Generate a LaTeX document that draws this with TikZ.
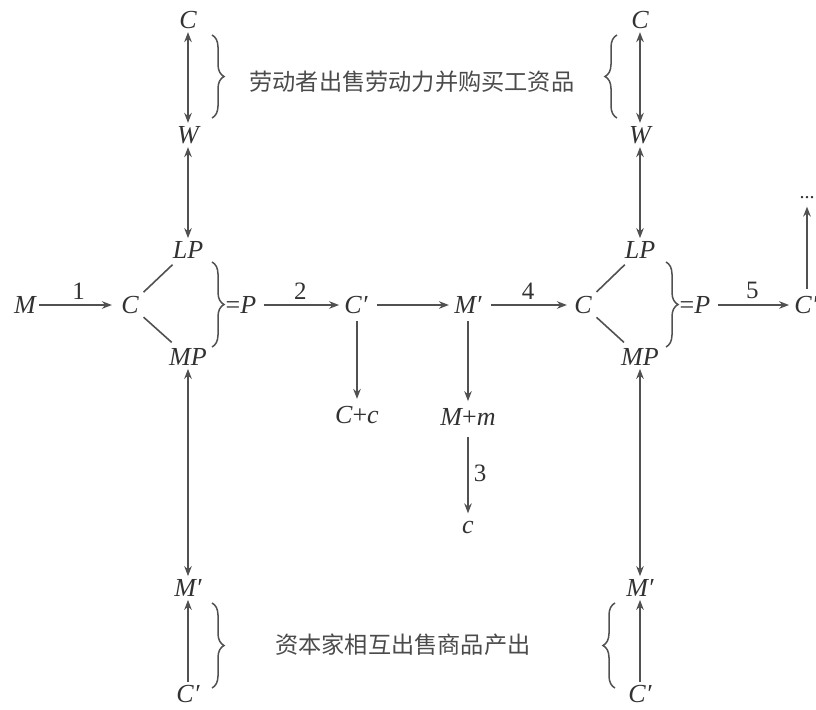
\documentclass[tikz,border=0pt]{standalone}
\usepackage{fontspec}
\setmainfont{Liberation Serif}
\newfontfamily\cjk{Noto Sans CJK SC}
\usetikzlibrary{arrows.meta,decorations.pathreplacing}
\definecolor{ink}{RGB}{50,50,50}
\definecolor{cjkink}{RGB}{75,75,75}
\begin{document}
\begin{tikzpicture}[x=0.5pt,y=-0.5pt,
  every node/.style={font=\fontsize{13}{15}\selectfont\itshape, text=ink, inner sep=1.5pt},
  lbl/.style={font=\fontsize{12.5}{14}\selectfont\upshape},
  cn/.style={font=\fontsize{11.6}{13}\selectfont\cjk, text=cjkink},
  conn/.style={draw=ink!85, line width=0.8pt},
  arr/.style={conn, -{Stealth[length=5pt,width=3.8pt]}},
  darr/.style={conn, {Stealth[length=5pt,width=3.8pt]}-{Stealth[length=5pt,width=3.8pt]}},
  brc/.style={draw=ink!85, line width=0.75pt, decorate, decoration={brace, amplitude=6pt}}]
\useasboundingbox (0,0) rectangle (816,709);
% left column
\node (C1t) at (188,20) {C};
\node (W1) at (188,135) {W};
\node (LP1) at (188,250) {LP};
\node (MP1) at (188,357) {MP};
\node (Mp1) at (188,588) {M′};
\node (Cp1) at (188,694) {C′};
% right column
\node (C2t) at (640,20) {C};
\node (W2) at (640,135) {W};
\node (LP2) at (640,250) {LP};
\node (MP2) at (640,357) {MP};
\node (Mp3) at (640,588) {M′};
\node (Cp4) at (640,694) {C′};
% main row
\node (M0) at (25,305) {M};
\node (C1) at (130,305) {C};
\node (eqP1) at (241,305) {\upshape=\itshape P};
\node (Cp2) at (356,305) {C′};
\node (Mp2) at (468,305) {M′};
\node (C2) at (583,305) {C};
\node (eqP2) at (695,305) {\upshape=\itshape P};
\node (Cp3) at (806,305) {C′};
\node (dots) at (807,198) {\upshape\fontsize{10}{11}\selectfont ...};
% lower
\node (Cc) at (357,415) {C\upshape+\itshape c};
\node (Mm) at (468,417) {M\upshape+\itshape m};
\node (c) at (468,527) {c};
% texts
\node[cn] (t1) at (412,82) {劳动者出售劳动力并购买工资品};
\node[cn] (t2) at (403,645) {资本家相互出售商品产出};
% braces
\draw[brc] (212,35) -- (212,118);
\draw[brc] (617,118) -- (617,35);
\draw[brc] (212,262) -- (212,347);
\draw[brc] (666,262) -- (666,347);
\draw[brc] (212,603) -- (212,688);
\draw[brc] (615,688) -- (615,603);
% vertical connectors
\draw[darr] (C1t) -- (W1);
\draw[darr] (W1) -- (LP1);
\draw[darr] (MP1) -- (Mp1);
\draw[arr] (Cp1) -- (Mp1);
\draw[darr] (C2t) -- (W2);
\draw[darr] (W2) -- (LP2);
\draw[darr] (MP2) -- (Mp3);
\draw[arr] (Cp4) -- (Mp3);
% fork lines
\draw[conn, shorten <=1pt, shorten >=2pt] (C1) -- (LP1);
\draw[conn, shorten <=1pt, shorten >=2pt] (C1) -- (MP1);
\draw[conn, shorten <=1pt, shorten >=2pt] (C2) -- (LP2);
\draw[conn, shorten <=1pt, shorten >=2pt] (C2) -- (MP2);
% horizontal arrows
\draw[arr, shorten >=3pt] (M0) -- node[lbl, above=1pt] {1} (C1);
\draw[arr, shorten <=2pt, shorten >=1pt] (eqP1) -- node[lbl, above=1pt] {2} (Cp2);
\draw[arr, shorten <=3pt, shorten >=1pt] (Cp2) -- (Mp2);
\draw[arr, shorten <=3pt, shorten >=2pt] (Mp2) -- node[lbl, above=1pt] {4} (C2);
\draw[arr, shorten <=2pt, shorten >=1pt] (eqP2) -- node[lbl, above=1pt] {5} (Cp3);
\draw[arr, shorten <=2pt, shorten >=2pt] (Cp3.north -| dots) -- (dots.south);
% down arrows
\draw[arr, shorten <=2pt, shorten >=2pt] (Cp2.south -| Cc) -- (Cc);
\draw[arr, shorten <=2pt, shorten >=2pt] (Mp2) -- (Mm);
\draw[arr, shorten <=4pt, shorten >=2pt] (Mm) -- node[lbl, right=1pt] {3} (c);
\end{tikzpicture}
\end{document}
